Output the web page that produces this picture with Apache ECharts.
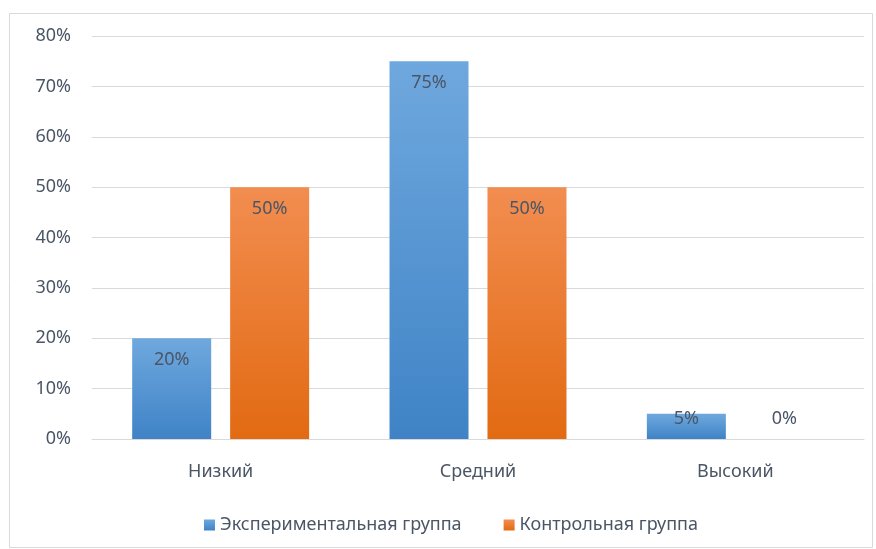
<!DOCTYPE html>
<html><head><meta charset="utf-8">
<script src="https://cdn.jsdelivr.net/npm/echarts@6/dist/echarts.min.js"></script>
<style>html,body{margin:0;padding:0;background:#fff}#c{width:876px;height:549px}</style>
</head><body><div id="c"></div>
<script>
const categories = ['Низкий', 'Средний', 'Высокий'];
const expValues = [20, 75, 5];
const ctrlValues = [50, 50, 0];
const yTicks = [0, 10, 20, 30, 40, 50, 60, 70, 80];
const seriesNames = ['Экспериментальная группа', 'Контрольная группа'];

const txt = '#4a5666';
const font = 'Noto Sans';
const fs = 18;
function grad(top, bottom) {
  return new echarts.graphic.LinearGradient(0, 0, 0, 1, [{offset: 0, color: top}, {offset: 1, color: bottom}]);
}
function itemData(vals) {
  return vals.map(v => {
    const d = {value: v};
    if (v === 0) d.label = {position: 'top', distance: 11};
    else if (v < 10) d.label = {position: 'insideTop', distance: -4};
    return d;
  });
}
const chart = echarts.init(document.getElementById('c'));
chart.setOption({
  animation: false,
  textStyle: {fontFamily: font},
  graphic: [{type: 'rect', shape: {x: 9.5, y: 13.5, width: 863, height: 534}, style: {fill: 'none', stroke: '#d9d9d9', lineWidth: 1}, z: -1}],
  grid: {left: 92, right: 12, top: 36, bottom: 110},
  legend: {
    bottom: 10, left: 199, itemWidth: 11, itemHeight: 11, itemGap: 42,
    icon: 'rect',
    textStyle: {color: txt, fontSize: fs, fontFamily: font},
    data: seriesNames
  },
  xAxis: {
    type: 'category', data: categories,
    axisLine: {lineStyle: {color: '#d9d9d9'}}, axisTick: {show: false},
    axisLabel: {color: txt, fontSize: fs, margin: 24, fontFamily: font}
  },
  yAxis: {
    type: 'value', min: yTicks[0], max: yTicks[yTicks.length - 1], interval: 10,
    axisLine: {show: false}, axisTick: {show: false},
    splitLine: {lineStyle: {color: '#d9d9d9'}},
    axisLabel: {color: txt, fontSize: fs, margin: 21, formatter: '{value}%', fontFamily: font}
  },
  series: [
    {
      name: seriesNames[0], type: 'bar', data: itemData(expValues),
      barWidth: '30.7%', barGap: '24%',
      itemStyle: {color: grad('#6fa8de', '#3f83c6')},
      label: {show: true, position: 'insideTop', distance: 13, formatter: '{c}%', color: txt, fontSize: fs, fontFamily: font}
    },
    {
      name: seriesNames[1], type: 'bar', data: itemData(ctrlValues),
      barWidth: '30.7%', barGap: '24%',
      itemStyle: {color: grad('#f28d50', '#e26a12')},
      label: {show: true, position: 'insideTop', distance: 13, formatter: '{c}%', color: txt, fontSize: fs, fontFamily: font}
    }
  ]
});
</script></body></html>
